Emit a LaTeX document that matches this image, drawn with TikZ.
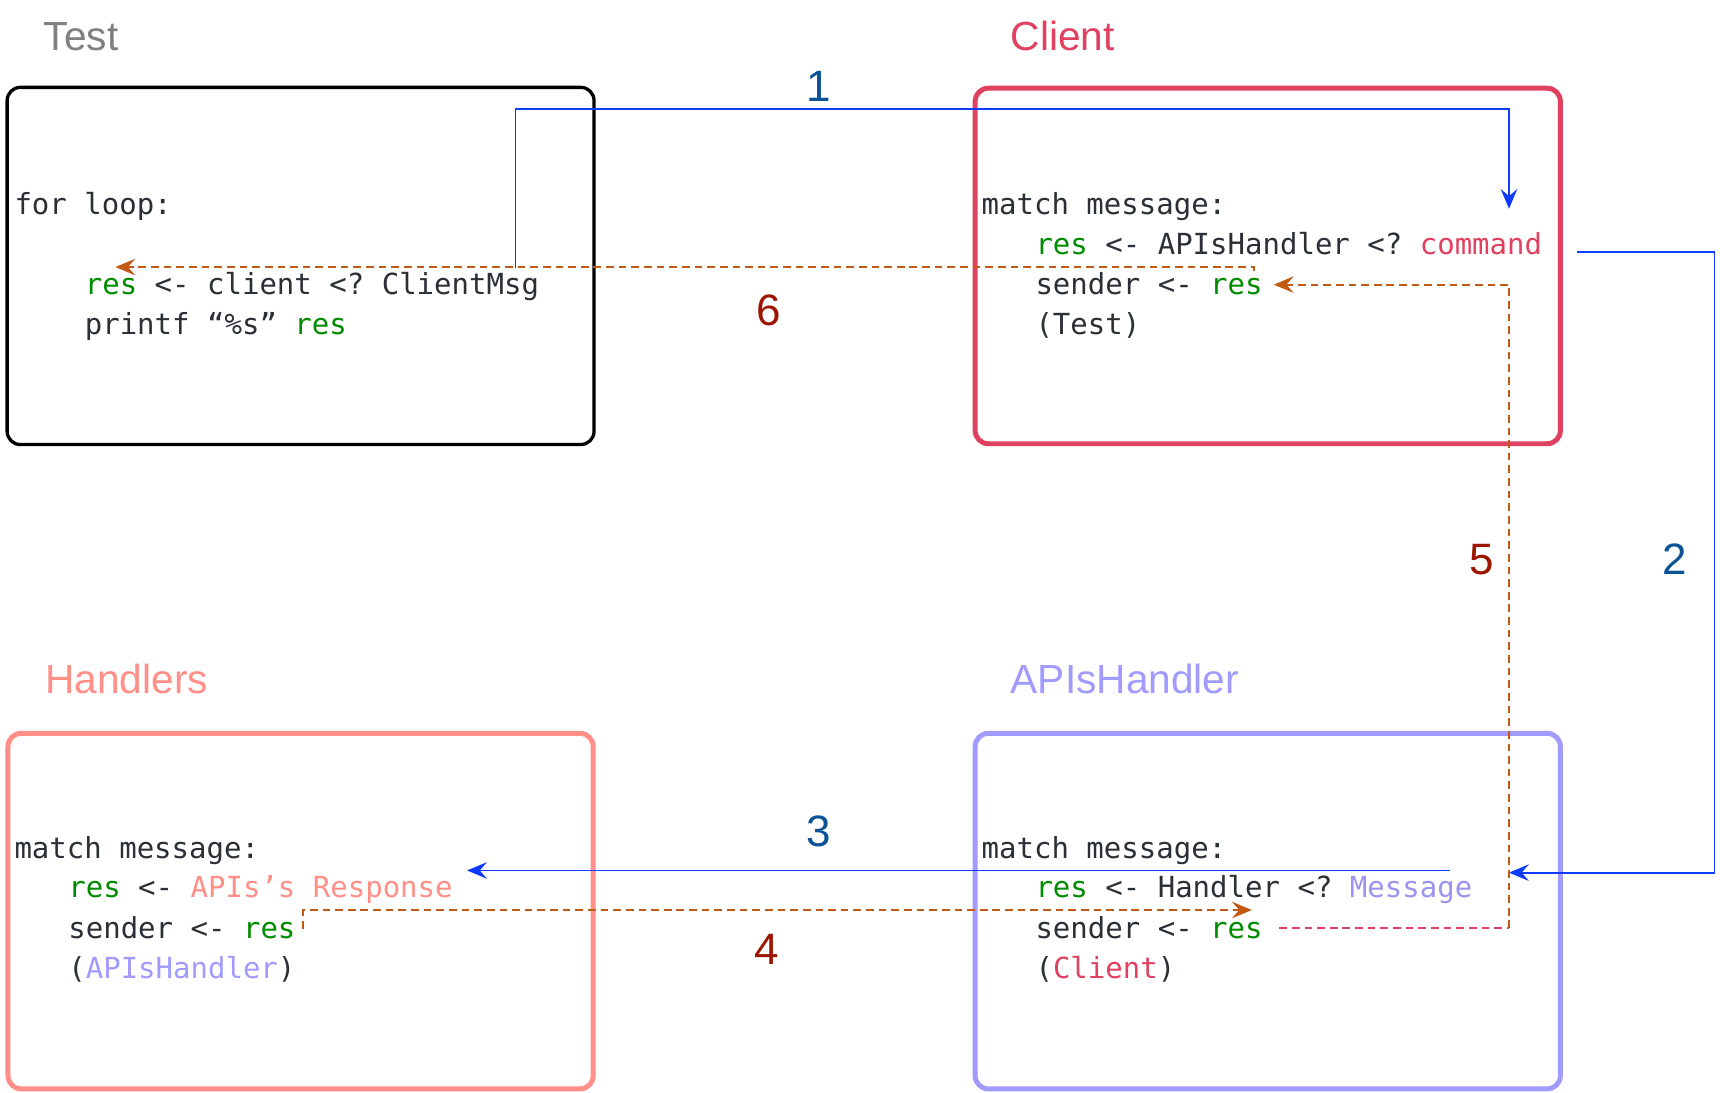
\documentclass[tikz,border=0pt]{standalone}
\usepackage{fontspec}
\setmainfont{Liberation Sans}
\newfontfamily\codefont{DejaVu Sans Mono}[Ligatures=NoCommon]
\usetikzlibrary{arrows.meta}
\definecolor{codeink}{HTML}{2B2F36}
\definecolor{resgreen}{HTML}{008C00}
\definecolor{clientred}{HTML}{E14160}
\definecolor{handlersalmon}{HTML}{FF8F87}
\definecolor{apilav}{HTML}{A29BFE}
\definecolor{msglav}{HTML}{9B94F0}
\definecolor{titlegray}{HTML}{808080}
\definecolor{flowblue}{HTML}{0F3BFF}
\definecolor{numblue}{HTML}{0B5394}
\definecolor{numred}{HTML}{9C1500}
\definecolor{retorange}{HTML}{C05A14}
\newcommand{\rs}{\textcolor{resgreen}{res}}
\frenchspacing
\begin{document}
\frenchspacing
\begin{tikzpicture}[x=1pt,y=-1pt,
  box/.style={draw, rounded corners=12pt, minimum width=532.5pt, minimum height=323.5pt, line width=4.5pt, inner sep=0pt},
  code/.style={font=\codefont\fontsize{26.4}{36.5}\selectfont\frenchspacing, inner sep=0pt, text=codeink, anchor=base west},
  title/.style={font=\fontsize{37}{40}\selectfont, inner sep=0pt, anchor=base west},
  num/.style={font=\fontsize{40}{44}\selectfont, inner sep=0pt, anchor=base},
  fwd/.style={draw=flowblue, line width=1.7pt, -{Stealth[length=18pt,width=15pt,inset=6.5pt]}},
  ret/.style={draw=retorange, line width=1.7pt, dash pattern=on 7pt off 4.5pt, -{Stealth[length=18pt,width=15pt,inset=6.5pt]}},
  retpink/.style={draw=clientred, line width=1.7pt, dash pattern=on 7pt off 4.5pt}
]
\useasboundingbox (0,0) rectangle (1565,994.5);
\fill[white] (0,0) rectangle (1565,994.5);

% titles
\node[title, text=titlegray] (ttest) at (39.6,45.5) {Test};
\node[title, text=clientred] (tclient) at (919.5,45.5) {Client};
\node[title, text=handlersalmon] (thandlers) at (41,631) {Handlers};
\node[title, text=apilav] (tapis) at (919.5,631) {APIsHandler};

% boxes
\node[box, draw=black, line width=3pt, minimum width=534pt, minimum height=325pt] (testbox) at (273.5,242) {};
\node[box, draw=clientred] (clientbox) at (1153.5,242) {};
\node[box, draw=handlersalmon] (handlersbox) at (273.5,829) {};
\node[box, draw=apilav] (apisbox) at (1153.5,829) {};

% Test code
\node[code] (ta) at (13,195.5) {for loop:};
\node[code] (tb) at (77,268) {\rs{} <- client <? ClientMsg};
\node[code] (tc) at (77,304.5) {printf “\%s” \rs};

% Client code
\node[code] (ca) at (893,195) {match message:};
\node[code] (cb) at (942,231.5) {\rs{} <- APIsHandler <? \textcolor{clientred}{command}};
\node[code] (cc) at (942,268) {sender <- \rs};
\node[code] (cd) at (942,304.5) {(Test)};

% Handlers code
\node[code] (ha) at (13,781) {match message:};
\node[code] (hb) at (62,817) {\rs{} <- \textcolor{handlersalmon}{APIs’s Response}};
\node[code] (hc) at (62,853.5) {sender <- \rs};
\node[code] (hd) at (62,890) {(\textcolor{apilav}{APIsHandler})};

% APIsHandler code
\node[code] (aa) at (893,781) {match message:};
\node[code] (ab) at (942,817) {\rs{} <- Handler <? \textcolor{msglav}{Message}};
\node[code] (ac) at (942,853.5) {sender <- \rs};
\node[code] (ad) at (942,890) {(\textcolor{clientred}{Client})};

% connector points
\coordinate (p1s) at (469,244);
\coordinate (p1a) at (469,99.5);
\coordinate (p1b) at (1373,99.5);
\coordinate (p1e) at (1373,190);
\coordinate (p2s) at (1435,229);
\coordinate (p2a) at (1560,229);
\coordinate (p2b) at (1560,794);
\coordinate (p2e) at (1373,794);
\coordinate (p3s) at (1319,792);
\coordinate (p3e) at (425,792);
\coordinate (p4s) at (276,845);
\coordinate (p4a) at (276,828);
\coordinate (p4e) at (1139,828);
\coordinate (p5s) at (1164,844.5);
\coordinate (p5a) at (1373,844.5);
\coordinate (p5b) at (1373,259);
\coordinate (p5e) at (1159,259);
\coordinate (p6s) at (1141,247);
\coordinate (p6a) at (1141,243);
\coordinate (p6e) at (105,243);

% forward flow
\draw[fwd] (p1s) -- (p1a) -- (p1b) -- (p1e);
\draw[fwd] (p2s) -- (p2a) -- (p2b) -- (p2e);
\draw[fwd] (p3s) -- (p3e);
% return flow
\draw[ret] (p4s) -- (p4a) -- (p4e);
\draw[retpink] (p5s) -- (p5a);
\draw[ret] (p5a) -- (p5b) -- (p5e);
\draw[ret] (p6s) -- (p6a) -- (p6e);

% step numbers
\node[num, text=numblue] (n1) at (744.5,92) {1};
\node[num, text=numblue] (n2) at (1524,523) {2};
\node[num, text=numblue] (n3) at (745,770.5) {3};
\node[num, text=numred] (n4) at (698,878) {4};
\node[num, text=numred] (n5) at (1348.5,523) {5};
\node[num, text=numred] (n6) at (699,296) {6};
\end{tikzpicture}
\end{document}
